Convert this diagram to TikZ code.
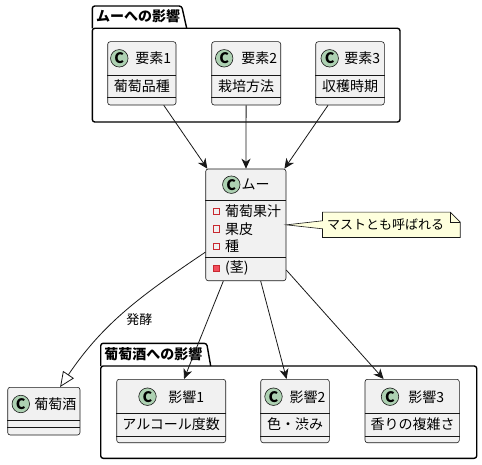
\documentclass[tikz,border=0pt]{standalone}
\usepackage{fontspec}
\setmainfont{Noto Sans CJK JP}
\usetikzlibrary{arrows.meta}
\definecolor{linea}{HTML}{181818}
\definecolor{fondo}{HTML}{F1F1F1}
\definecolor{verde}{HTML}{ADD1B2}
\definecolor{rojo}{HTML}{C82930}
\definecolor{rosa}{HTML}{F24D5C}
\definecolor{amarillo}{HTML}{FEFFDD}
\begin{document}
\begin{tikzpicture}[x=1pt,y=-1pt,
  clase/.style={draw=linea,fill=fondo,line width=0.6pt,rounded corners=2.5pt,inner sep=0pt},
  circ/.style={circle,draw=linea,fill=verde,line width=0.6pt,minimum size=17.5pt,inner sep=0pt,font=\fontsize{14.5}{14.5}\selectfont\bfseries},
  txt/.style={inner sep=0pt,font=\fontsize{14}{16}\selectfont},
  sep/.style={draw=linea,line width=0.6pt},
  attr/.style={draw=rojo,line width=0.6pt,minimum size=6.5pt,inner sep=0pt},
  paquete/.style={draw=black,line width=1.4pt,rounded corners=2.5pt,line join=round},
  titulo/.style={inner sep=0pt,font=\fontsize{14}{16}\selectfont\bfseries},
  flecha/.style={draw=linea,line width=0.8pt,-{Stealth[length=10pt,width=9pt,inset=3pt]}},
  gener/.style={draw=linea,line width=0.8pt,-{Triangle[fill=white,length=15pt,width=13pt]}},
  etiqueta/.style={inner sep=0pt,font=\fontsize{13}{15}\selectfont}]
\useasboundingbox (0,0) rectangle (482,465);
%
% paquetes: tab, cuerpo
\draw[paquete] (92.3,28.3) -- (92.3,6) -- (181.7,6) -- (186.7,28.3);
\draw[paquete] (92.3,28.3) rectangle (400,122);
\node[titulo] (t1) at (138,16.5) {ムーへの影響};
\draw[paquete] (100.7,366) -- (100.7,343.3) -- (206.7,343.3) -- (210.7,366);
\draw[paquete] (100.7,366) rectangle (476.7,458.3);
\node[titulo] (t2) at (153.3,354) {葡萄酒への影響};
%
% clases de arriba
\node[clase,minimum width=68.3pt,minimum height=63.3pt] (e1) at (141.85,73.35) {};
\node[circ] (c1) at (119.3,58.3) {C};
\node[txt] (n1) at (153.3,58.3) {要素1};
\node[txt] (r1) at (141.85,86) {葡萄品種};
\draw[sep] (e1.west |- 0,75) -- (e1.east |- 0,75);
\draw[sep] (e1.west |- 0,97.3) -- (e1.east |- 0,97.3);
%
\node[clase,minimum width=69pt,minimum height=63.3pt] (e2) at (246.2,73.35) {};
\node[circ] (c2) at (224.2,58.3) {C};
\node[txt] (n2) at (259.2,58.3) {要素2};
\node[txt] (r2) at (246.2,86) {栽培方法};
\draw[sep] (e2.west |- 0,75) -- (e2.east |- 0,75);
\draw[sep] (e2.west |- 0,97.3) -- (e2.east |- 0,97.3);
%
\node[clase,minimum width=68.6pt,minimum height=63.3pt] (e3) at (350,73.35) {};
\node[circ] (c3) at (329.7,58.3) {C};
\node[txt] (n3) at (362.2,58.3) {要素3};
\node[txt] (r3) at (350,86) {収穫時期};
\draw[sep] (e3.west |- 0,75) -- (e3.east |- 0,75);
\draw[sep] (e3.west |- 0,97.3) -- (e3.east |- 0,97.3);
%
% la clase del centro
\node[clase,minimum width=80.3pt,minimum height=111.7pt] (mu) at (245.85,224.85) {};
\node[circ] (cm) at (231.3,184.7) {C};
\node[txt] (nm) at (255.7,184.7) {ムー};
\draw[sep] (mu.west |- 0,200.7) -- (mu.east |- 0,200.7);
\draw[sep] (mu.west |- 0,257.3) -- (mu.east |- 0,257.3);
\node[attr] (a1) at (216.3,211.5) {};
\node[txt,anchor=west] (m1) at (225,211.5) {葡萄果汁};
\node[attr] (a2) at (216.3,229) {};
\node[txt,anchor=west] (m2) at (225,229) {果皮};
\node[attr] (a3) at (216.3,246.5) {};
\node[txt,anchor=west] (m3) at (225,246.5) {種};
\node[attr,fill=rosa] (a4) at (216.3,268.3) {};
\node[txt,anchor=west] (m4) at (225,268.3) {(茎)};
%
% nota
\node[minimum width=137.3pt,minimum height=25pt,inner sep=0pt] (nota) at (391.35,224.8) {};
\filldraw[draw=linea,fill=amarillo,line width=0.6pt] (nota.north west) -- ([xshift=-10pt]nota.north east)
  -- ([yshift=-10pt]nota.north east) -- (nota.south east) -- (nota.south west)
  -- ([yshift=-4pt]nota.west) -- (mu.east) -- ([yshift=4pt]nota.west) -- cycle;
\draw[draw=linea,line width=0.6pt] ([xshift=-10pt]nota.north east) -- ([xshift=-10pt,yshift=-10pt]nota.north east) -- ([yshift=-10pt]nota.north east);
\node[etiqueta] (nt) at (385.5,224.8) {マストとも呼ばれる};
%
% clases de abajo
\node[clase,minimum width=72.3pt,minimum height=47.7pt] (v) at (43.85,411.15) {};
\node[circ] (cv) at (20.8,404) {C};
\node[txt] (nv) at (55.3,404) {葡萄酒};
\draw[sep] (v.west |- 0,420) -- (v.east |- 0,420);
\draw[sep] (v.west |- 0,427.7) -- (v.east |- 0,427.7);
%
\node[clase,minimum width=109pt,minimum height=63.4pt] (i1) at (171.2,411) {};
\node[circ] (ci1) at (147.5,396.7) {C};
\node[txt] (ni1) at (186.2,396.7) {影響1};
\node[txt] (ri1) at (171.2,424) {アルコール度数};
\draw[sep] (i1.west |- 0,413.3) -- (i1.east |- 0,413.3);
\draw[sep] (i1.west |- 0,436) -- (i1.east |- 0,436);
%
\node[clase,minimum width=68.6pt,minimum height=63.4pt] (i2) at (295,411) {};
\node[circ] (ci2) at (273.5,396.7) {C};
\node[txt] (ni2) at (307.5,396.7) {影響2};
\node[txt] (ri2) at (295,424) {色・渋み};
\draw[sep] (i2.west |- 0,413.3) -- (i2.east |- 0,413.3);
\draw[sep] (i2.west |- 0,436) -- (i2.east |- 0,436);
%
\node[clase,minimum width=94.3pt,minimum height=63.4pt] (i3) at (412.15,411) {};
\node[circ] (ci3) at (390,396.7) {C};
\node[txt] (ni3) at (426.3,396.7) {影響3};
\node[txt] (ri3) at (412.5,424) {香りの複雑さ};
\draw[sep] (i3.west |- 0,413.3) -- (i3.east |- 0,413.3);
\draw[sep] (i3.west |- 0,436) -- (i3.east |- 0,436);
%
% flechas
\draw[flecha] (e1) -- (mu);
\draw[flecha] (e2) -- (mu);
\draw[flecha] (e3) -- (mu);
\draw[flecha] (mu) -- (i1);
\draw[flecha] (mu) -- (i2);
\draw[flecha] (mu) -- (i3);
\draw[gener] (mu) to[out=214,in=56] (v);
\node[etiqueta] (fer) at (139.3,320) {発酵};
%
\end{tikzpicture}
\end{document}
